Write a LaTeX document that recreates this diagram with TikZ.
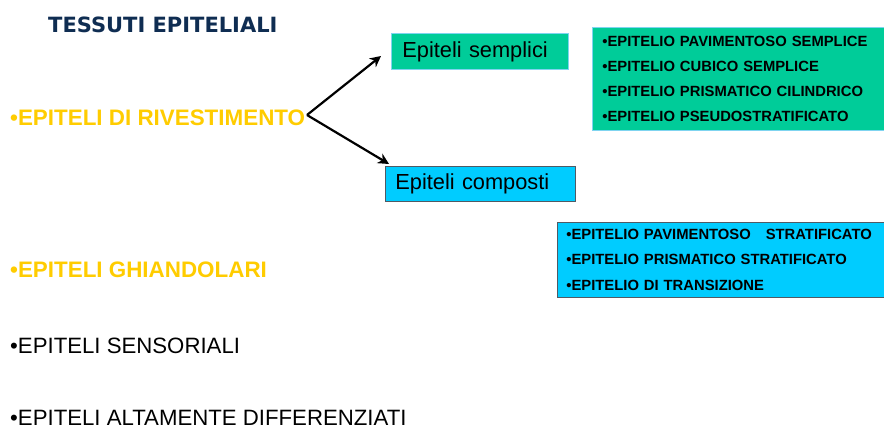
\documentclass[tikz,border=0pt]{standalone}
\usepackage{fontspec}
\setmainfont{Liberation Sans}
\newfontfamily\titlefont{DejaVu Sans}
\usetikzlibrary{arrows.meta}
\definecolor{navy}{HTML}{0F2D52}
\definecolor{gold}{HTML}{FFCC00}
\definecolor{teal}{HTML}{00CC99}
\definecolor{sky}{HTML}{00CCFF}
\definecolor{tealedge}{HTML}{7FD4F0}
\definecolor{skyedge}{HTML}{505A64}
\tikzset{
  heading/.style={anchor=base west, inner sep=0pt, text depth=0pt, font=\fontsize{22.4}{26}\selectfont\bfseries, text=gold},
  plain/.style={anchor=base west, inner sep=0pt, text depth=0pt, font=\fontsize{22.2}{26}\selectfont, text=black},
  catbox/.style={draw, line width=0.8pt, anchor=north west, align=left, inner ysep=0pt, font=\fontsize{21.8}{26}\selectfont},
  listbox/.style={draw, line width=0.8pt, anchor=north west, align=left, font=\fontsize{14.8}{25.3}\selectfont\bfseries, inner ysep=0pt},
  branch/.style={line width=2.2pt, -{Stealth[length=11pt,width=11pt]}}
}
\begin{document}
\begin{tikzpicture}[x=1pt,y=-1pt]
\useasboundingbox (0,0) rectangle (884,431);
\node[anchor=base west, inner sep=0pt, font=\titlefont\fontsize{21}{24}\selectfont\bfseries, text=navy] (title) at (48,32) {TESSUTI EPITELIALI};
\node[heading] (riv) at (10,125) {•EPITELI DI RIVESTIMENTO};
\node[heading] (ghi) at (10,277) {•EPITELI GHIANDOLARI};
\node[plain] (sen) at (10,353) {•EPITELI SENSORIALI};
\node[plain] (alt) at (10,425.5) {•EPITELI ALTAMENTE DIFFERENZIATI};
\node[catbox, fill=teal, draw=tealedge, minimum width=177pt, minimum height=36pt, text width=155pt, inner xsep=11pt] (sem) at (391,33) {Epiteli semplici};
\node[catbox, fill=sky, draw=skyedge, minimum width=190pt, minimum height=35pt, text width=170pt, inner xsep=10pt] (com) at (385,166) {Epiteli composti};
\node[listbox, fill=teal, draw=tealedge, minimum width=292pt, minimum height=103pt, text width=272pt, inner xsep=10pt] (slist) at (592,27) {\mbox{•EPITELIO PAVIMENTOSO SEMPLICE}\\\mbox{•EPITELIO CUBICO SEMPLICE}\\\mbox{•EPITELIO PRISMATICO CILINDRICO}\\\mbox{•EPITELIO PSEUDOSTRATIFICATO}};
\node[listbox, fill=sky, draw=skyedge, minimum width=327pt, minimum height=75pt, text width=309pt, inner xsep=9pt] (clist) at (557,222) {\mbox{•EPITELIO PAVIMENTOSO\hspace{10pt} STRATIFICATO}\\\mbox{•EPITELIO PRISMATICO STRATIFICATO}\\\mbox{•EPITELIO DI TRANSIZIONE}};
\coordinate (fork) at (307,115);
\coordinate (tipS) at (381,56);
\coordinate (tipC) at (389,164);
\draw[branch] (fork) -- (tipS);
\draw[branch] (fork) -- (tipC);
\end{tikzpicture}
\end{document}
